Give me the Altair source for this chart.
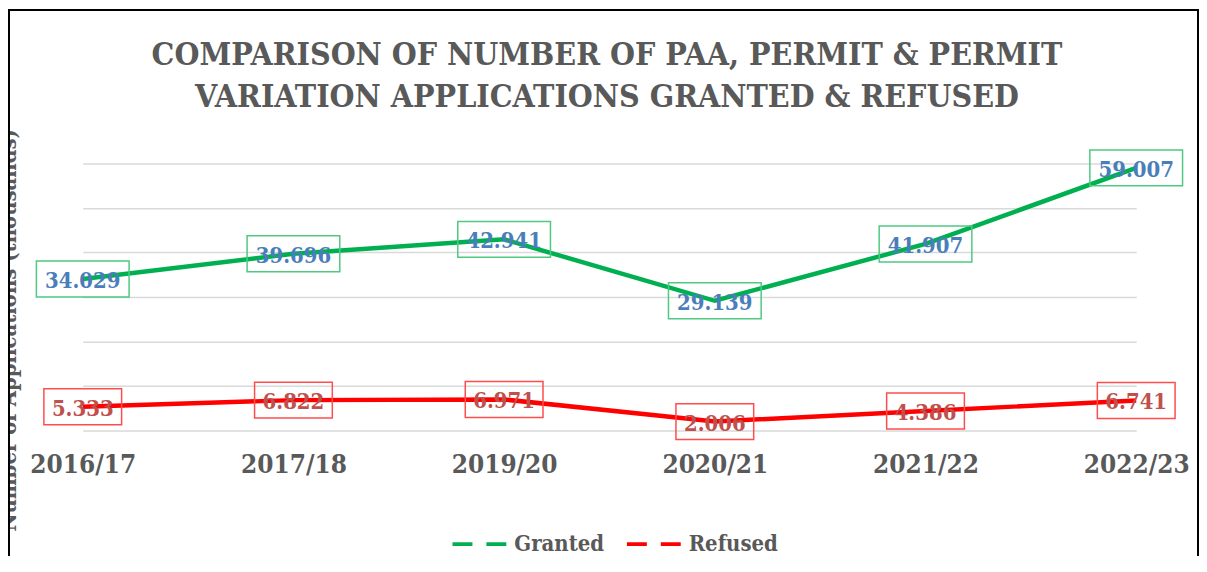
import altair as alt
import pandas as pd

years = ["2016/17", "2017/18", "2019/20", "2020/21", "2021/22", "2022/23"]
granted = [34.029, 39.696, 42.941, 29.139, 41.907, 59.007]
refused = [5.333, 6.822, 6.971, 2.006, 4.386, 6.741]
series_names = ["Granted", "Refused"]
line_colors = ["#00b050", "#ff0000"]
label_colors = ["#4a7ebb", "#c0504d"]
grid_values = [0, 10, 20, 30, 40, 50, 60]
title_lines = ["COMPARISON OF NUMBER OF PAA, PERMIT & PERMIT",
               "VARIATION APPLICATIONS GRANTED & REFUSED"]

rows = []
for s, vals in zip(series_names, [granted, refused]):
    for yr, v in zip(years, vals):
        rows.append({"year": yr, "value": v, "series": s})
df = pd.DataFrame(rows)

SERIF = "DejaVu Serif Condensed, DejaVu Serif, serif"
GRAY = "#595959"

W, H = 1057, 268
PL, PT, PR, PB = 75, 155, 63, 125

x = alt.X(
    "year:N", sort=years,
    scale=alt.Scale(type="point", padding=0),
    axis=alt.Axis(title=None, labelAngle=0, domain=False, ticks=False,
                  labelFont=SERIF, labelFontSize=26, labelFontWeight="bold",
                  labelColor=GRAY, labelPadding=21, grid=False),
)
y = alt.Y(
    "value:Q", scale=alt.Scale(domain=[0, 60]),
    axis=alt.Axis(values=grid_values, labels=False, ticks=False, domain=False,
                  grid=True, gridColor="#d9d9d9", gridWidth=1.5,
                  title="Number of Applications (thousands)",
                  titleFont=SERIF, titleFontSize=22, titleFontWeight="bold",
                  titleColor=GRAY, titleAngle=270, titleAlign="center",
                  titleBaseline="alphabetic", titleX=-67, titleY=167),
)

base = alt.Chart(df)

lines = base.mark_line(strokeWidth=4.5).encode(
    x=x, y=y,
    color=alt.Color("series:N", scale=alt.Scale(domain=series_names, range=line_colors),
                    legend=alt.Legend(title=None, orient="none", direction="horizontal",
                                      legendX=369, legendY=353,
                                      symbolType="stroke", symbolSize=2916,
                                      symbolStrokeWidth=4, symbolDash=[20, 14],
                                      labelFont=SERIF, labelFontSize=22,
                                      labelFontWeight="bold", labelColor=GRAY,
                                      labelOffset=6, columnPadding=14)),
)

layers = [lines]
box_w = [93, 78]
box_stroke = ["#4fc982", "#ff4d4d"]
for s, bw, bs, lc in zip(series_names, box_w, box_stroke, label_colors):
    sub = base.transform_filter(alt.datum.series == s)
    layers.append(sub.mark_rect(width=bw, height=36, fill="transparent",
                                stroke=bs, strokeWidth=1.5).encode(x=x, y=y))
    layers.append(sub.mark_text(font=SERIF, fontSize=22, fontWeight="bold",
                                color=lc, dy=2, baseline="middle").encode(
        x=x, y=y, text=alt.Text("value:Q", format=".3f")))

one = pd.DataFrame({"f": [0]})
frame = alt.Chart(one).mark_rect(
    fill="transparent", stroke="#000000", strokeWidth=2).encode(
    x=alt.value(-PL + 1), x2=alt.value(W + PR - 1),
    y=alt.value(-PT + 1), y2=alt.value(H + PB + 40))

title = alt.Chart(one).mark_text(
    text=title_lines, lineHeight=42, align="center", baseline="alphabetic",
    font=SERIF, fontSize=32, fontWeight="bold", color=GRAY).encode(
    x=alt.value(526), y=alt.value(-99))

chart = alt.layer(frame, title, *layers).properties(
    width=W, height=H,
    autosize=alt.AutoSizeParams(type="none"),
    padding={"left": PL, "top": PT, "right": PR, "bottom": PB},
).configure(background="white").configure_view(stroke=None)

chart.save("out.html", embed_options={"renderer": "svg", "actions": False})
